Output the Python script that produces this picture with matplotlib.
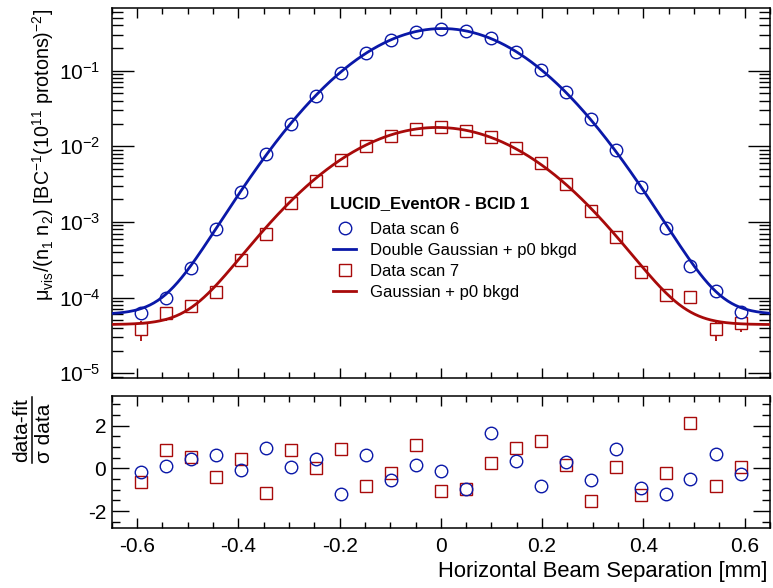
import numpy as np
import matplotlib
matplotlib.use('Agg')
import matplotlib.pyplot as plt
from matplotlib.ticker import MultipleLocator, LogLocator, NullFormatter, FuncFormatter
from matplotlib.lines import Line2D

plt.rcParams['font.family'] = ['Liberation Sans', 'DejaVu Sans']
plt.rcParams['mathtext.fontset'] = 'custom'
plt.rcParams['mathtext.rm'] = 'Liberation Sans'
plt.rcParams['mathtext.it'] = 'Liberation Sans:italic'
plt.rcParams['mathtext.bf'] = 'Liberation Sans:bold'
plt.rcParams['axes.unicode_minus'] = False

# horizontal beam separation [mm]
sep = [-0.592, -0.543, -0.493, -0.444, -0.395, -0.345, -0.296, -0.247, -0.197, -0.148, -0.099, -0.049, 0.0,
       0.049, 0.099, 0.148, 0.197, 0.247, 0.296, 0.345, 0.395, 0.444, 0.493, 0.543, 0.592]

# mu_vis / (n1 n2), scan 6 and scan 7
scan6 = [6.3e-5, 1.0e-4, 2.49e-4, 8.0e-4, 2.49e-3, 7.8e-3, 0.020, 0.0463, 0.094, 0.169, 0.252, 0.327, 0.359,
         0.334, 0.270, 0.178, 0.102, 0.0522, 0.0227, 8.95e-3, 2.93e-3, 8.4e-4, 2.65e-4, 1.22e-4, 6.47e-5]
scan6_err = [1.3e-5, 1.2e-5, 1.5e-5, 2.2e-5, 4e-5, 8e-5, 1.5e-4, 2.5e-4, 4e-4, 6e-4, 8e-4, 1e-3, 1e-3,
             1e-3, 8e-4, 6e-4, 4e-4, 2.5e-4, 1.5e-4, 8e-5, 4e-5, 2.2e-5, 1.5e-5, 1.2e-5, 1.3e-5]
scan7 = [3.81e-5, 6.21e-5, 7.76e-5, 1.19e-4, 3.18e-4, 6.87e-4, 1.77e-3, 3.48e-3, 6.53e-3, 0.0101, 0.0138, 0.0169, 0.0180,
         0.0161, 0.0134, 9.5e-3, 5.96e-3, 3.15e-3, 1.38e-3, 6.27e-4, 2.16e-4, 1.07e-4, 1.03e-4, 3.85e-5, 4.58e-5]
scan7_err = [1.1e-5, 1.3e-5, 1.4e-5, 1.6e-5, 2.5e-5, 3.5e-5, 6e-5, 9e-5, 1.3e-4, 1.6e-4, 1.9e-4, 2.1e-4, 2.1e-4,
             2.1e-4, 1.9e-4, 1.6e-4, 1.3e-4, 9e-5, 6e-5, 3.5e-5, 2.5e-5, 1.6e-5, 1.4e-5, 1.2e-5, 1.1e-5]

# (data-fit)/sigma
res6 = [-0.16, 0.12, 0.43, 0.62, -0.10, 0.96, 0.04, 0.45, -1.20, 0.60, -0.56, 0.16, -0.15,
        -0.98, 1.65, 0.35, -0.82, 0.29, -0.57, 0.89, -0.90, -1.22, -0.49, 0.67, -0.26]
res7 = [-0.64, 0.87, 0.54, -0.43, 0.43, -1.18, 0.85, 0.00, 0.90, -0.82, -0.20, 1.07, -1.04,
        -0.95, 0.24, 0.96, 1.26, 0.15, -1.51, 0.04, -1.25, -0.21, 2.12, -0.85, 0.05]

# fit results
dg_amp, dg_frac, dg_sig1, dg_sig2, dg_mu, dg_bkg = 0.36, 0.75, 0.118, 0.14, 0.003, 6.0e-5
g_amp, g_sig, g_mu, g_bkg = 0.0177, 0.136, -0.007, 4.4e-5

legend_title = 'LUCID_EventOR - BCID 1'
labels = ['Data scan 6', 'Double Gaussian + p0 bkgd', 'Data scan 7', 'Gaussian + p0 bkgd']

blue = '#0a18a8'
red = '#a80a0a'

def dgauss(x):
    return dg_amp * (dg_frac * np.exp(-(x - dg_mu)**2 / (2 * dg_sig1**2))
                     + (1 - dg_frac) * np.exp(-(x - dg_mu)**2 / (2 * dg_sig2**2))) + dg_bkg

def gauss(x):
    return g_amp * np.exp(-(x - g_mu)**2 / (2 * g_sig**2)) + g_bkg

fig = plt.figure(figsize=(7.73, 5.88), dpi=100)
ax1 = fig.add_axes([0.1445, 0.3577, 0.8516, 0.6282])
ax2 = fig.add_axes([0.1445, 0.1026, 0.8516, 0.2245])

xx = np.linspace(-0.65, 0.65, 500)

ax1.errorbar(sep, scan7, yerr=scan7_err, fmt='none', ecolor=red, elinewidth=1.3, capsize=0, zorder=1)
ax1.errorbar(sep, scan6, yerr=scan6_err, fmt='none', ecolor=blue, elinewidth=1.3, capsize=0, zorder=1)
h3, = ax1.plot(sep, scan7, 's', mfc='white', mec=red, ms=8.8, mew=1.0, zorder=2)
h1, = ax1.plot(sep, scan6, 'o', mfc='white', mec=blue, ms=9, mew=1.0, zorder=2)
h4, = ax1.plot(xx, gauss(xx), color=red, lw=2, zorder=3)
h2, = ax1.plot(xx, dgauss(xx), color=blue, lw=2, zorder=3)

ax1.set_yscale('log')
ax1.set_xlim(-0.65, 0.65)
ax1.set_ylim(8.75e-6, 0.667)
ax1.xaxis.set_major_locator(MultipleLocator(0.2))
ax1.xaxis.set_minor_locator(MultipleLocator(0.05))
ax1.xaxis.set_major_formatter(NullFormatter())
ax1.yaxis.set_major_locator(LogLocator(base=10))
ax1.yaxis.set_minor_locator(LogLocator(base=10, subs=np.arange(2, 10)))
ax1.yaxis.set_minor_formatter(NullFormatter())
ax1.yaxis.set_major_formatter(FuncFormatter(lambda v, p: '10$^{%d}$' % round(np.log10(v))))
ax1.tick_params(axis='both', which='both', direction='in', top=True, right=True, width=1, labelsize=15)
ax1.tick_params(axis='y', which='major', length=16, pad=8)
ax1.tick_params(axis='y', which='minor', length=8)
ax1.tick_params(axis='x', which='major', length=7)
ax1.tick_params(axis='x', which='minor', length=4)

ax1.text(0.3316, 0.4595, legend_title, transform=ax1.transAxes, ha='left', va='baseline',
         fontsize=12, fontweight='bold')
ax1.legend([h1, h2, h3, h4], labels, loc='upper left', bbox_to_anchor=(0.336, 0.421),
           frameon=False, fontsize=12, handlelength=1.4, handletextpad=0.8, labelspacing=0.35,
           borderpad=0, borderaxespad=0)

ax2.plot(sep, res7, 's', mfc='none', mec=red, ms=8.8, mew=1.0)
ax2.plot(sep, res6, 'o', mfc='none', mec=blue, ms=9, mew=1.0)
ax2.set_xlim(-0.65, 0.65)
ax2.set_ylim(-2.78, 3.4)
ax2.xaxis.set_major_locator(MultipleLocator(0.2))
ax2.xaxis.set_minor_locator(MultipleLocator(0.05))
ax2.yaxis.set_major_locator(MultipleLocator(2))
ax2.yaxis.set_minor_locator(MultipleLocator(0.5))
ax2.xaxis.set_major_formatter(FuncFormatter(lambda v, p: '%g' % round(v, 1)))
ax2.tick_params(axis='both', which='both', direction='in', top=True, right=True, width=1, labelsize=15)
ax2.tick_params(axis='y', which='major', length=12, pad=4)
ax2.tick_params(axis='y', which='minor', length=6)
ax2.tick_params(axis='x', which='major', length=7, pad=7)
ax2.tick_params(axis='x', which='minor', length=4)

for ax in (ax1, ax2):
    for s in ax.spines.values():
        s.set_linewidth(1.1)

fig.text(768 / 773, 1 - 572 / 588, 'Horizontal Beam Separation [mm]', ha='right', va='center', fontsize=15.8)
fig.text(43 / 773, 1 - 9 / 588,
         'μ$_{\\mathrm{vis}}$/(n$_{1}$ n$_{2}$) [BC$^{-1}$(10$^{11}$ protons)$^{-2}$]',
         rotation=90, ha='center', va='top', fontsize=14.2)

# residual axis title as a stacked fraction
fig.text(22 / 773, 1 - 430 / 588, 'data-fit', rotation=90, ha='center', va='center', fontsize=15)
fig.text(44 / 773, 1 - 433 / 588, 'σ data', rotation=90, ha='center', va='center', fontsize=15)
fig.add_artist(Line2D([32 / 773, 32 / 773], [1 - 397 / 588, 1 - 463 / 588], color='black', lw=1.1,
                      transform=fig.transFigure))

fig.savefig('out.png', dpi=100)
